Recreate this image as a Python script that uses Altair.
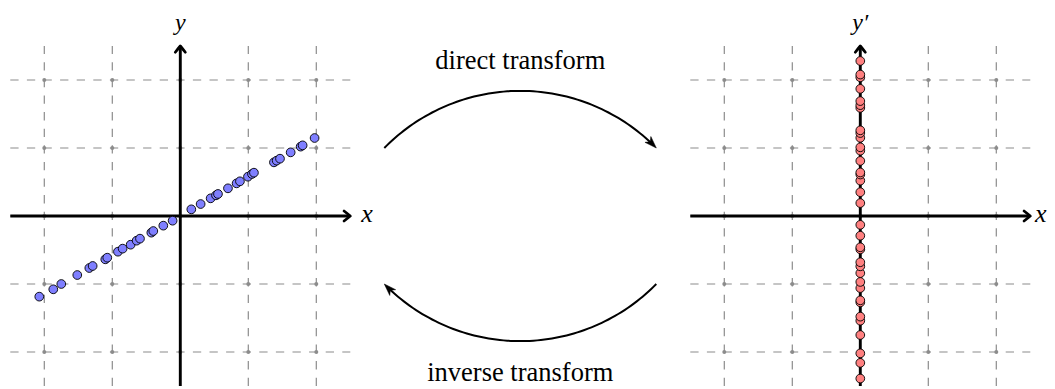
import altair as alt
import pandas as pd
import numpy as np

# ---- data (grid units) ----
left_x = [-2.074, -1.868, -1.75, -1.515, -1.338, -1.289, -1.103, -1.074, -0.917, -0.848,
          -0.730, -0.642, -0.593, -0.426, -0.397, -0.250, -0.113, 0.162, 0.299, 0.446,
          0.525, 0.554, 0.701, 0.828, 0.877, 0.995, 1.054, 1.083, 1.377, 1.417,
          1.466, 1.623, 1.770, 1.799, 1.975]
left_y = [-1.186, -1.078, -1.0, -0.868, -0.765, -0.735, -0.637, -0.613, -0.525, -0.480,
          -0.422, -0.363, -0.333, -0.245, -0.221, -0.142, -0.069, 0.098, 0.176, 0.260,
          0.304, 0.324, 0.407, 0.480, 0.510, 0.578, 0.618, 0.637, 0.789, 0.814,
          0.843, 0.936, 1.020, 1.039, 1.147]
right_y = [-2.39, -2.16, -2.02, -1.75, -1.54, -1.48, -1.27, -1.24, -1.06, -0.97,
           -0.84, -0.74, -0.68, -0.49, -0.46, -0.29, -0.13, 0.19, 0.35, 0.52,
           0.61, 0.64, 0.81, 0.96, 1.01, 1.15, 1.22, 1.26, 1.59, 1.63,
           1.69, 1.87, 2.04, 2.08, 2.28]
grid_ticks = [-2, -1, 0, 1, 2]
panel_offsets = [0, 10]
axis_labels_x = ["x", "x"]
axis_labels_y = ["y", "y\u2032"]
transform_labels = ["direct transform", "inverse transform"]

# ---- layout ----
UNIT = 68.0
W, H = 1039, 381
X0 = -172.3 / UNIT
Y1 = 208.0 / UNIT
HALF = 2.5
xs = alt.Scale(domain=[X0, X0 + W / UNIT], nice=False, zero=False)
ys = alt.Scale(domain=[Y1 - H / UNIT, Y1], nice=False, zero=False)


def X(f):
    return alt.X(f, type="quantitative", scale=xs, axis=None)


def Y(f):
    return alt.Y(f, type="quantitative", scale=ys, axis=None)


GRID_COLOR = "#8c8c8c"
SERIF = "Liberation Serif"

# grid lines
vrows, hrows, dots = [], [], []
for o in panel_offsets:
    for t in grid_ticks:
        vrows.append({"x": o + t, "y": -HALF, "y2": HALF})
        hrows.append({"y": t, "x": o - HALF, "x2": o + HALF})
        for u in grid_ticks:
            dots.append({"x": o + t, "y": u})
vgrid = alt.Chart(pd.DataFrame(vrows)).mark_rule(
    color=GRID_COLOR, strokeWidth=1.2, strokeDash=[8.3, 8.3]
).encode(x=X("x"), y=Y("y"), y2="y2")
hgrid = alt.Chart(pd.DataFrame(hrows)).mark_rule(
    color=GRID_COLOR, strokeWidth=1.2, strokeDash=[8.3, 8.3]
).encode(y=Y("y"), x=X("x"), x2="x2")
gdots = alt.Chart(pd.DataFrame(dots)).mark_circle(
    color=GRID_COLOR, size=16, opacity=1
).encode(x=X("x"), y=Y("y"))

# axes
ax_rows_h = [{"y": 0, "x": o - HALF, "x2": o + HALF - 0.03} for o in panel_offsets]
ax_rows_v = [{"x": o, "y": -HALF, "y2": HALF - 0.03} for o in panel_offsets]
haxis = alt.Chart(pd.DataFrame(ax_rows_h)).mark_rule(color="black", strokeWidth=2.9).encode(
    y=Y("y"), x=X("x"), x2="x2")
vaxis = alt.Chart(pd.DataFrame(ax_rows_v)).mark_rule(color="black", strokeWidth=2.9).encode(
    x=X("x"), y=Y("y"), y2="y2")
chev_rows = []
for o in panel_offsets:
    chev_rows.append({"x": o + HALF, "y": 0, "a": 90})
    chev_rows.append({"x": o, "y": HALF, "a": 0})
CHEVRON = "M-1,1.25 Q-0.45,0.55 0,0 Q0.45,0.55 1,1.25"
chevrons = alt.Chart(pd.DataFrame(chev_rows)).mark_point(
    shape=CHEVRON, filled=False, stroke="black", strokeWidth=2.8, size=100, opacity=1,
    strokeCap="round", strokeJoin="round"
).encode(x=X("x"), y=Y("y"), angle=alt.Angle("a:Q", scale=None))

# points
left_df = pd.DataFrame({"x": left_x, "y": left_y})
right_df = pd.DataFrame({"x": [panel_offsets[1]] * len(right_y), "y": right_y})
lpts = alt.Chart(left_df).mark_circle(
    size=76, fill="#7f7fff", stroke="black", strokeWidth=0.9, opacity=1
).encode(x=X("x"), y=Y("y"))
rpts = alt.Chart(right_df).mark_circle(
    size=76, fill="#ff8080", stroke="black", strokeWidth=0.9, opacity=1
).encode(x=X("x"), y=Y("y"))

# curved transform arrows (circular arcs)
ARC_X = [3.0, 7.0]
ARC_Y = 1.0
SAG = 0.84
half = (ARC_X[1] - ARC_X[0]) / 2
R = (half ** 2 + SAG ** 2) / (2 * SAG)
cx = (ARC_X[0] + ARC_X[1]) / 2
arc_rows = []
cy_top = ARC_Y + SAG - R
a0 = np.arctan2(ARC_Y - cy_top, ARC_X[0] - cx)
a1 = np.arctan2(ARC_Y - cy_top, ARC_X[1] - cx)
shrink = 0.11 / R
for i, t in enumerate(np.linspace(a0, a1 + shrink, 80)):
    arc_rows.append({"arc": "top", "i": i, "x": cx + R * np.cos(t), "y": cy_top + R * np.sin(t)})
cy_bot = -cy_top
b0 = np.arctan2(-ARC_Y - cy_bot, ARC_X[1] - cx)
b1 = np.arctan2(-ARC_Y - cy_bot, ARC_X[0] - cx)
for i, t in enumerate(np.linspace(b0, b1 + shrink, 80)):
    arc_rows.append({"arc": "bot", "i": i, "x": cx + R * np.cos(t), "y": cy_bot + R * np.sin(t)})
arcs = alt.Chart(pd.DataFrame(arc_rows)).mark_line(color="black", strokeWidth=2.0).encode(
    x=X("x"), y=Y("y"), detail="arc:N", order="i:Q")

tan_top = np.degrees(a1) - 90.0
tan_bot = np.degrees(b1) - 90.0
head_rows = [
    {"x": ARC_X[1], "y": ARC_Y, "a": (90.0 - tan_top) % 360},
    {"x": ARC_X[0], "y": -ARC_Y, "a": (90.0 - tan_bot) % 360},
]
STEALTH = "M0,0 L0.55,1.6 L0,1.15 L-0.55,1.6 Z"
heads = alt.Chart(pd.DataFrame(head_rows)).mark_point(
    shape=STEALTH, filled=True, fill="black", stroke="black", strokeWidth=0.5, size=225, opacity=1
).encode(x=X("x"), y=Y("y"), angle=alt.Angle("a:Q", scale=None))

# texts
tdf = pd.DataFrame({"x": [cx, cx], "y": [2.16, -2.42], "t": transform_labels})
ttext = alt.Chart(tdf).mark_text(
    font=SERIF, fontSize=26.5, align="center", baseline="alphabetic", color="black"
).encode(x=X("x"), y=Y("y"), text="t:N")
ylab = pd.DataFrame({"x": [o for o in panel_offsets], "y": [2.74, 2.74], "t": axis_labels_y})
ytext = alt.Chart(ylab).mark_text(
    font=SERIF, fontSize=24, fontStyle="italic", align="center", baseline="alphabetic", color="black"
).encode(x=X("x"), y=Y("y"), text="t:N")
xlab = pd.DataFrame({"x": [2.66, 12.57], "y": [-0.09, -0.09], "t": axis_labels_x})
xtext = alt.Chart(xlab).mark_text(
    font=SERIF, fontSize=26, fontStyle="italic", align="left", baseline="alphabetic", color="black"
).encode(x=X("x"), y=Y("y"), text="t:N")

chart = alt.layer(
    vgrid, hgrid, gdots, haxis, vaxis, chevrons, lpts, rpts, arcs, heads, ttext, ytext, xtext
).properties(width=W, height=H, padding=0, autosize="none").configure_view(stroke=None)

chart.save("out.html", embed_options={"renderer": "svg", "actions": False})
